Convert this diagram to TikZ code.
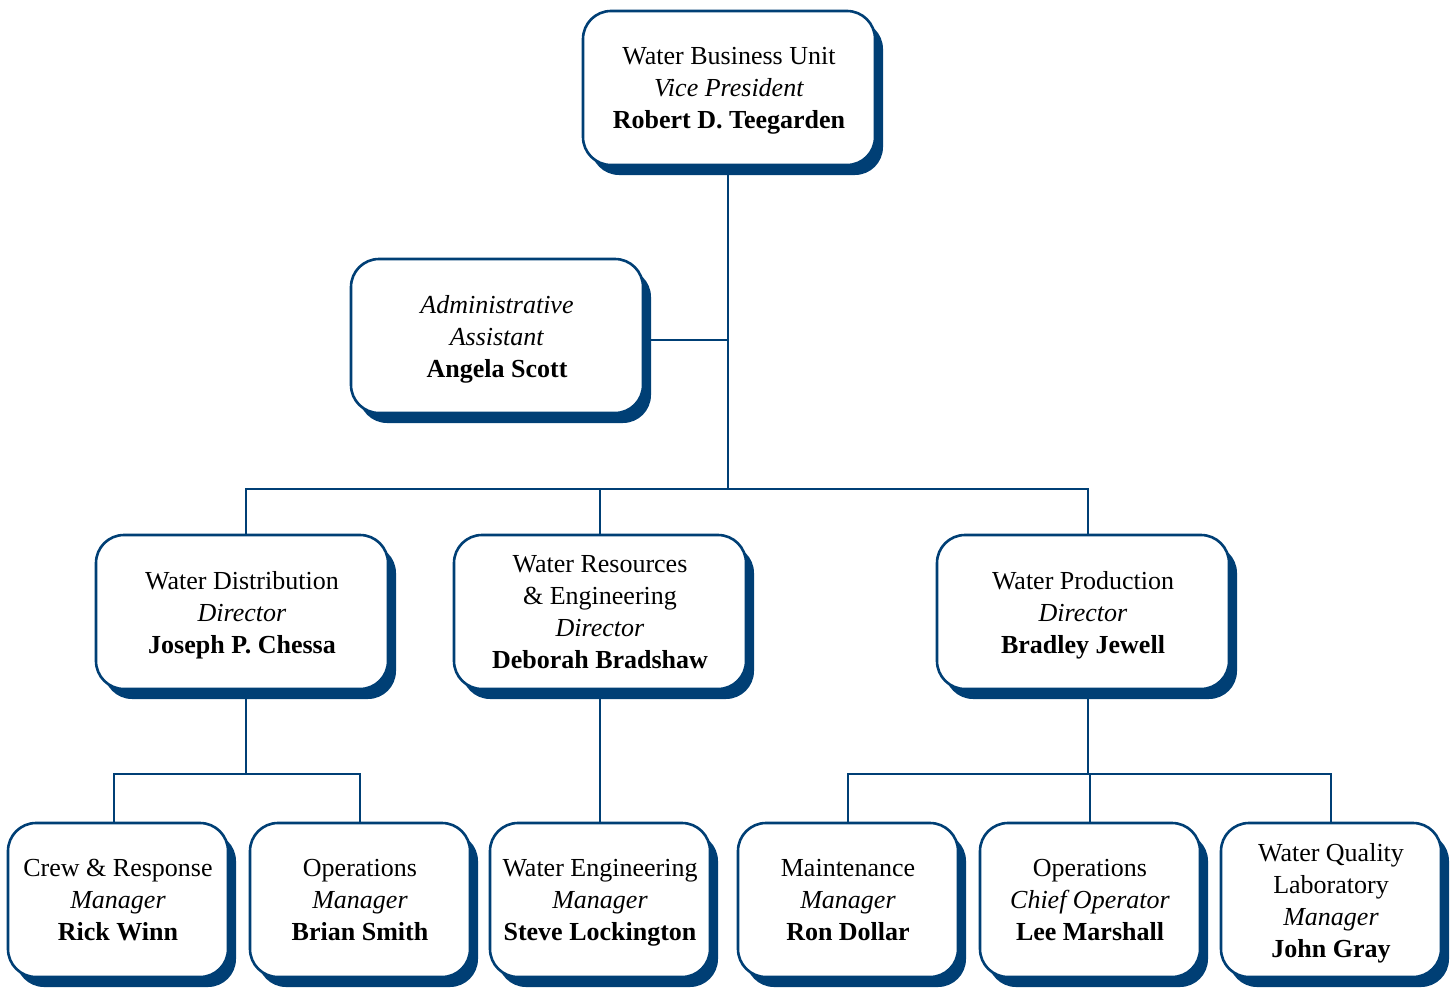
\documentclass[tikz,border=0pt]{standalone}
\usepackage{fontspec}
\setmainfont{Liberation Serif}
\usepackage{tikz}
\usetikzlibrary{shadows,backgrounds}
\definecolor{wblue}{HTML}{003F75}

\begin{document}
\begin{tikzpicture}[x=1pt,y=-1pt,
  unit/.style={draw=wblue, line width=2.6pt, fill=white, rounded corners=28pt,
    align=center, inner sep=2pt, minimum width=292pt, minimum height=154pt,
    font=\fontsize{26}{32}\selectfont, text depth=0pt,
    execute at begin node=\strut, execute at end node=\strut,
    drop shadow={shadow xshift=8pt, shadow yshift=-10pt, fill=wblue, opacity=1}},
  staff/.style={unit, minimum width=220pt},
  link/.style={draw=wblue, line width=2.2pt}]

\useasboundingbox (0,0) rectangle (1450,990);

\node[unit] (vp) at (729,88) {Water Business Unit\\\textit{Vice President}\\\textbf{Robert D. Teegarden}};
\node[unit] (admin) at (497,336) {\textit{Administrative}\\\textit{Assistant}\\\textbf{Angela Scott}};

\node[unit] (dist) at (242,612) {Water Distribution\\\textit{Director}\\\textbf{Joseph P. Chessa}};
\node[unit] (res) at (600,612) {Water Resources\\\& Engineering\\\textit{Director}\\\textbf{Deborah Bradshaw}};
\node[unit] (prod) at (1083,612) {Water Production\\\textit{Director}\\\textbf{Bradley Jewell}};

\node[staff] (crew) at (118,900) {Crew \& Response\\\textit{Manager}\\\textbf{Rick Winn}};
\node[staff] (ops) at (360,900) {Operations\\\textit{Manager}\\\textbf{Brian Smith}};
\node[staff] (eng) at (600,900) {Water Engineering\\\textit{Manager}\\\textbf{Steve Lockington}};
\node[staff] (maint) at (848,900) {Maintenance\\\textit{Manager}\\\textbf{Ron Dollar}};
\node[staff] (chief) at (1090,900) {Operations\\\textit{Chief Operator}\\\textbf{Lee Marshall}};
\node[staff] (wql) at (1331,900) {Water Quality\\Laboratory\\\textit{Manager}\\\textbf{John Gray}};

\coordinate (top) at (728,489);
\coordinate (dj) at (246,774);
\coordinate (pj) at (1088,774);

\begin{scope}[on background layer]
\draw[link] (vp.south -| top) -- (top);
\draw[link] ([yshift=-4pt]admin.east) -- ([yshift=-4pt]admin.east -| top);
\draw[link] ([xshift=4pt]dist.north) |- (top) -| ([xshift=5pt]prod.north);
\draw[link] (res.north) -- (res.north |- top);
\draw[link] ([xshift=4pt]dist.south) -- (dj);
\draw[link] ([xshift=-4pt]crew.north) |- (dj) -| (ops.north);
\draw[link] (res.south) -- (eng.north);
\draw[link] ([xshift=5pt]prod.south) -- (pj);
\draw[link] (maint.north) |- (pj) -| (wql.north);
\draw[link] (chief.north) -- (chief.north |- pj);
\end{scope}
\end{tikzpicture}
\end{document}
